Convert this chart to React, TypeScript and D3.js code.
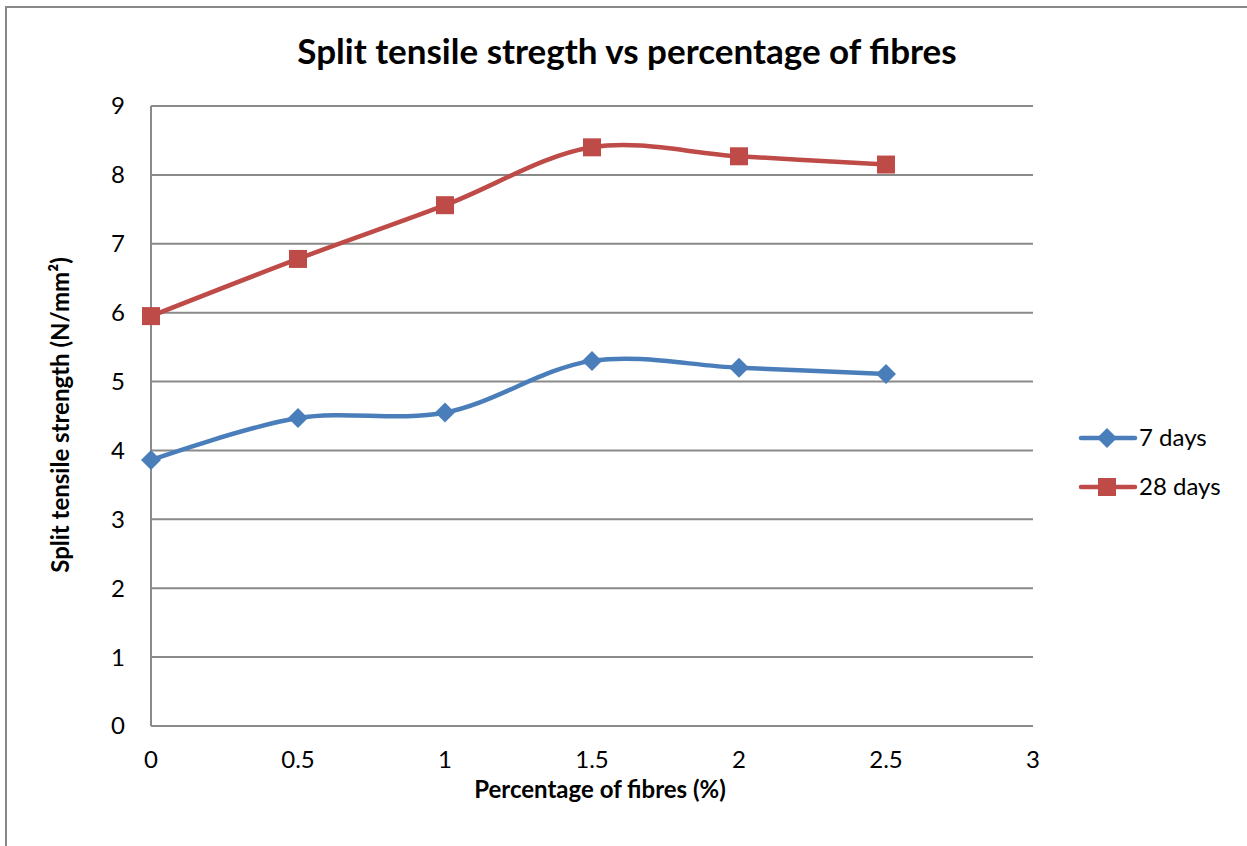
import * as d3 from "d3";

const WIDTH = 1247;
const HEIGHT = 846;
const MARGIN = { top: 106, right: 214, bottom: 120, left: 151 };

const fibres = [0, 0.5, 1, 1.5, 2, 2.5];
const days7 = [3.86, 4.47, 4.55, 5.3, 5.2, 5.11];
const days28 = [5.95, 6.78, 7.56, 8.4, 8.27, 8.15];
const xTicks = [0, 0.5, 1, 1.5, 2, 2.5, 3];
const yTicks = [0, 1, 2, 3, 4, 5, 6, 7, 8, 9];

const BLUE = "#4A7EBB";
const RED = "#BE4B48";
const FONT = "Lato, 'Open Sans', sans-serif";

const App = () => {
    const boundsWidth = WIDTH - MARGIN.left - MARGIN.right;
    const boundsHeight = HEIGHT - MARGIN.top - MARGIN.bottom;

    const xScale = d3.scaleLinear().domain([0, 3]).range([0, boundsWidth]);
    const yScale = d3.scaleLinear().domain([0, 9]).range([boundsHeight, 0]);

    const line = d3
        .line<number>()
        .x((_, i) => xScale(fibres[i]))
        .y((d) => yScale(d))
        .curve(d3.curveCatmullRom.alpha(0.5));

    const diamond = (cx: number, cy: number, r: number) =>
        `M${cx},${cy - r}L${cx + r},${cy}L${cx},${cy + r}L${cx - r},${cy}Z`;

    return (
        <svg
            width={WIDTH}
            height={HEIGHT}
            style={{ position: "absolute", left: 0, top: 0, background: "white" }}
        >
            <rect x={6} y={7} width={WIDTH + 10} height={HEIGHT + 10} fill="white" stroke="#888" strokeWidth={2} />
            <text
                x={627}
                y={64}
                textAnchor="middle"
                fontFamily={FONT}
                fontWeight="bold"
                fontSize={35}
            >
                Split tensile stregth vs percentage of fibres
            </text>

            <g transform={`translate(${MARGIN.left},${MARGIN.top})`}>
                {/* grid */}
                {yTicks.map((t) => (
                    <line
                        key={t}
                        x1={0}
                        x2={boundsWidth}
                        y1={yScale(t)}
                        y2={yScale(t)}
                        stroke="#8a8a8a"
                        strokeWidth={2}
                    />
                ))}
                <line x1={0} x2={0} y1={0} y2={boundsHeight} stroke="#8a8a8a" strokeWidth={2} />

                {/* y tick labels */}
                {yTicks.map((t) => (
                    <text
                        key={t}
                        x={-26}
                        y={yScale(t)}
                        dy="0.35em"
                        textAnchor="end"
                        fontFamily={FONT}
                        fontSize={24}
                    >
                        {t}
                    </text>
                ))}
                {/* x tick labels */}
                {xTicks.map((t) => (
                    <text
                        key={t}
                        x={xScale(t)}
                        y={boundsHeight + 42}
                        textAnchor="middle"
                        fontFamily={FONT}
                        fontSize={24}
                    >
                        {t}
                    </text>
                ))}

                {/* series */}
                <path d={line(days7) || ""} fill="none" stroke={BLUE} strokeWidth={4.5} />
                <path d={line(days28) || ""} fill="none" stroke={RED} strokeWidth={4.5} />
                {days7.map((d, i) => (
                    <path key={i} d={diamond(xScale(fibres[i]), yScale(d), 10)} fill={BLUE} />
                ))}
                {days28.map((d, i) => (
                    <rect
                        key={i}
                        x={xScale(fibres[i]) - 9}
                        y={yScale(d) - 9}
                        width={18}
                        height={18}
                        fill={RED}
                    />
                ))}
            </g>

            {/* axis titles */}
            <text
                x={600}
                y={798}
                textAnchor="middle"
                fontFamily={FONT}
                fontWeight="bold"
                fontSize={24}
            >
                Percentage of fibres (%)
            </text>
            <text
                transform="translate(69,415) rotate(-90)"
                textAnchor="middle"
                fontFamily={FONT}
                fontWeight="bold"
                fontSize={24}
            >
                Split tensile strength (N/mm²)
            </text>

            {/* legend */}
            <g fontFamily={FONT} fontSize={24}>
                <line x1={1081} x2={1135} y1={438} y2={438} stroke={BLUE} strokeWidth={4.5} strokeLinecap="round" />
                <path d={diamond(1107, 438, 10)} fill={BLUE} />
                <text x={1139} y={438} dy="0.35em">7 days</text>
                <line x1={1081} x2={1135} y1={487} y2={487} stroke={RED} strokeWidth={4.5} strokeLinecap="round" />
                <rect x={1098} y={478} width={18} height={18} fill={RED} />
                <text x={1139} y={487} dy="0.35em">28 days</text>
            </g>
        </svg>
    );
};

export default App;
